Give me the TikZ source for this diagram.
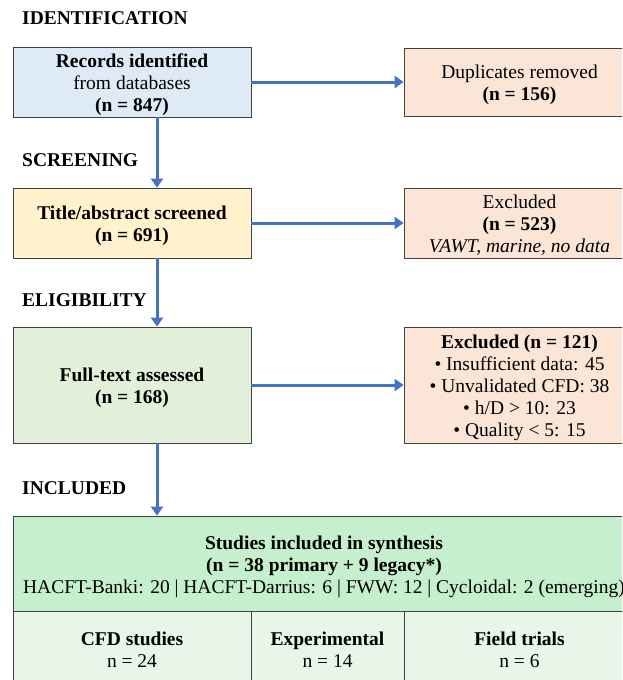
\documentclass[tikz,border=0pt]{standalone}
\usepackage{fontspec}
\setmainfont{Liberation Serif}
\usetikzlibrary{arrows.meta}

\definecolor{idblue}{HTML}{DEEBF7}
\definecolor{scryellow}{HTML}{FFF2CC}
\definecolor{eligreen}{HTML}{E2F0D9}
\definecolor{exclpeach}{HTML}{FBE5D6}
\definecolor{incltop}{HTML}{C6EFCE}
\definecolor{inclcell}{HTML}{E8F5E9}
\definecolor{flowblue}{HTML}{4472C4}

% First-line strut, so the lines sit as in the reference
\newcommand{\firstln}{\rule{0pt}{19.6pt}}

\begin{document}
\begin{tikzpicture}[x=1pt, y=-1pt,
    every node/.style={font=\fontsize{19.5}{22}\selectfont},
    box/.style={draw=black!75, line width=0.8pt, align=center, inner sep=1pt,
        execute at end node={\rule[-4.3pt]{0pt}{4.3pt}}},
    phase/.style={anchor=west, inner sep=0pt, font=\fontsize{19.5}{22}\selectfont\bfseries},
    flow/.style={draw=flowblue, line width=3pt, -{Triangle[length=9pt,width=12pt]}}]
\useasboundingbox (0,0) rectangle (622,680);
\clip (0,0) rectangle (622,680);

% Phase headings on the left
\foreach \y/\t in {18/IDENTIFICATION, 160/SCREENING, 300/ELIGIBILITY, 488/INCLUDED} {
    \node[phase] (ph-\t) at (22,\y) {\t};
}

% Main flow boxes
\node[box, fill=idblue, minimum width=238, minimum height=68] (rec) at (132,82)
    {\firstln\textbf{Records identified}\\from databases\\\textbf{(n = 847)}};
\node[box, fill=scryellow, minimum width=238, minimum height=70] (scr) at (132,223)
    {\firstln\textbf{Title/abstract screened}\\\textbf{(n = 691)}};
\node[box, fill=eligreen, minimum width=238, minimum height=116] (full) at (132,385)
    {\firstln\textbf{Full-text assessed}\\\textbf{(n = 168)}};

% Exclusion boxes on the right
\node[box, fill=exclpeach, minimum width=231, minimum height=68] (dup) at (519.5,82)
    {\firstln Duplicates removed\\\textbf{(n = 156)}};
\node[box, fill=exclpeach, minimum width=231, minimum height=70] (exscr) at (519.5,223)
    {\firstln Excluded\\\textbf{(n = 523)}\\\textit{VAWT, marine, no data}};
\node[box, fill=exclpeach, minimum width=231, minimum height=116] (exfull) at (519.5,385)
    {\firstln\textbf{Excluded (n = 121)}\\\textbullet{} Insufficient data: 45\\\textbullet{} Unvalidated CFD: 38\\
     \textbullet{} h/D > 10: 23\\\textbullet{} Quality < 5: 15};

% Included studies with the split by study type
\node[box, fill=incltop, minimum width=622, minimum height=95] (incl) at (324,563.5)
    {\firstln\textbf{Studies included in synthesis}\\\textbf{(n = 38 primary + 9 legacy*)}\\
     HACFT-Banki: 20 | HACFT-Darrius: 6 | FWW: 12 | Cycloidal: 2 (emerging)};
\node[box, fill=inclcell, minimum width=238, minimum height=75] (cfd) at (132,648.5)
    {\firstln\textbf{CFD studies}\\n = 24};
\node[box, fill=inclcell, minimum width=153, minimum height=75] (expt) at (327.5,648.5)
    {\firstln\textbf{Experimental}\\n = 14};
\node[box, fill=inclcell, minimum width=231, minimum height=75] (field) at (519.5,648.5)
    {\firstln\textbf{Field trials}\\n = 6};

% Arrows
\draw[flow] (rec.east) -- (dup.west);
\draw[flow] (scr.east) -- (exscr.west);
\draw[flow] (full.east) -- (exfull.west);
\draw[flow] ([xshift=25pt]rec.south) -- ([xshift=25pt]scr.north);
\draw[flow] ([xshift=25pt]scr.south) -- ([xshift=25pt]full.north);
\draw[flow] ([xshift=25pt]full.south) -- ([xshift=25pt]incl.north -| full.south);
\end{tikzpicture}
\end{document}
